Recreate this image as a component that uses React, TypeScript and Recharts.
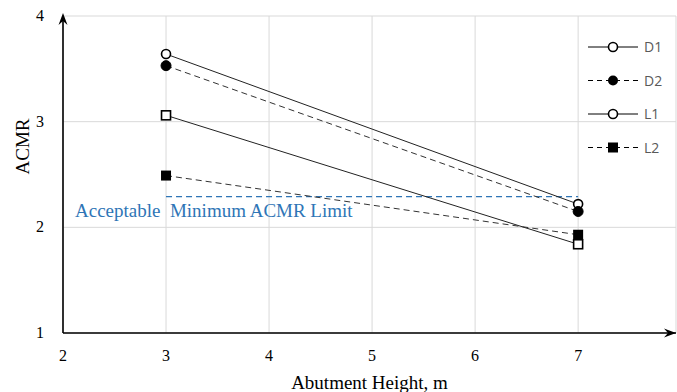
import { CartesianGrid, Line, LineChart, ReferenceDot, ReferenceLine, XAxis, YAxis } from 'recharts';

const heights = [3, 7];
const d1 = [3.64, 2.22];
const d2 = [3.53, 2.15];
const l1 = [3.06, 1.84];
const l2 = [2.49, 1.93];
const limit = 2.29;
const xTicks = [2, 3, 4, 5, 6, 7];
const yTicks = [1, 2, 3, 4];

const data = heights.map((h, i) => ({ h, D1: d1[i], D2: d2[i], L1: l1[i], L2: l2[i] }));

const serif = '"Liberation Serif", "Times New Roman", serif';

const OpenCircle = (p: any) => (
  <circle cx={p.cx} cy={p.cy} r={4.5} fill="#fff" stroke="#000" strokeWidth={1.6} />
);
const FilledCircle = (p: any) => <circle cx={p.cx} cy={p.cy} r={5} fill="#000" stroke="#000" />;
const OpenSquare = (p: any) => (
  <rect x={p.cx - 4.5} y={p.cy - 4.5} width={9} height={9} fill="#fff" stroke="#000" strokeWidth={1.6} />
);
const FilledSquare = (p: any) => <rect x={p.cx - 5} y={p.cy - 5} width={10} height={10} fill="#000" />;

const XTick = (p: any) => (
  <text x={p.x} y={p.y + 20} textAnchor="middle" fontSize={16} fontFamily={serif} fill="#000">
    {p.payload.value}
  </text>
);
const YTick = (p: any) => (
  <text x={p.x - 15} y={p.y + 5} textAnchor="middle" fontSize={16} fontFamily={serif} fill="#000">
    {p.payload.value}
  </text>
);

const legendItems = [
  { name: 'D1', dash: false, marker: 'oc' },
  { name: 'D2', dash: true, marker: 'fc' },
  { name: 'L1', dash: false, marker: 'oc' },
  { name: 'L2', dash: true, marker: 'fs' },
];

const ChartLegend = () => (
  <svg width={90} height={120}>
    {legendItems.map((it, i) => {
      const y = 10 + i * 33.5;
      return (
        <g key={it.name}>
          <line x1={2} x2={52} y1={y} y2={y} stroke="#000" strokeDasharray={it.dash ? '5 4' : undefined} />
          {it.marker === 'oc' && <circle cx={27} cy={y} r={4.5} fill="#fff" stroke="#000" strokeWidth={1.6} />}
          {it.marker === 'fc' && <circle cx={27} cy={y} r={5} fill="#000" />}
          {it.marker === 'fs' && <rect x={22} y={y - 5} width={10} height={10} fill="#000" />}
          <text x={58} y={y + 5} fontSize={14} fill="#595959" fontFamily='"Open Sans", "Noto Sans", sans-serif'>
            {it.name}
          </text>
        </g>
      );
    })}
  </svg>
);

const ArrowUp = (p: any) => (
  <path d={`M${p.cx},${p.cy - 3} L${p.cx - 4.5},${p.cy + 9} L${p.cx},${p.cy + 5} L${p.cx + 4.5},${p.cy + 9} Z`} fill="#000" />
);
const ArrowRight = (p: any) => (
  <path d={`M${p.cx},${p.cy} L${p.cx - 12},${p.cy - 4.5} L${p.cx - 8},${p.cy} L${p.cx - 12},${p.cy + 4.5} Z`} fill="#000" />
);

const App = () => (
  <div style={{ position: 'absolute', left: 0, top: 0, width: 677, height: 392, background: '#fff', fontFamily: serif }}>
    <LineChart width={677} height={392} data={data} margin={{ top: 16, right: 1, left: 0, bottom: 0 }}>
      <CartesianGrid stroke="#d9d9d9" horizontal vertical />
      <XAxis
        dataKey="h"
        type="number"
        domain={[2, 7.95]}
        ticks={xTicks}
        tickLine={false}
        axisLine={{ stroke: '#000', strokeWidth: 1.6 }}
        tick={XTick}
        height={59}
        label={{ value: 'Abutment Height, m', position: 'insideBottom', offset: 3, fill: '#000', fontSize: 19 }}
      />
      <YAxis
        type="number"
        domain={[1, 4]}
        ticks={yTicks}
        tickLine={false}
        axisLine={{ stroke: '#000', strokeWidth: 1.6 }}
        tick={YTick}
        width={63}
        label={{ value: 'ACMR', angle: -90, position: 'insideLeft', offset: 22, fill: '#000', fontSize: 19 }}
      />
      <ReferenceLine
        segment={[{ x: 3, y: limit }, { x: 7, y: limit }]}
        stroke="#2e75b6"
        strokeDasharray="6 4"
        strokeWidth={1.2}
      />
      <ReferenceDot x={2} y={4} ifOverflow="visible" shape={ArrowUp} />
      <ReferenceDot x={7.95} y={1} ifOverflow="visible" shape={ArrowRight} />
      <Line dataKey="D1" stroke="#222" strokeWidth={1} dot={OpenCircle} isAnimationActive={false} />
      <Line dataKey="D2" stroke="#333" strokeWidth={1} strokeDasharray="6 4" dot={FilledCircle} isAnimationActive={false} />
      <Line dataKey="L1" stroke="#222" strokeWidth={1} dot={OpenSquare} isAnimationActive={false} />
      <Line dataKey="L2" stroke="#333" strokeWidth={1} strokeDasharray="6 4" dot={FilledSquare} isAnimationActive={false} />
    </LineChart>
    <div style={{ position: 'absolute', left: 586, top: 37 }}>
      <ChartLegend />
    </div>
    <div
      style={{
        position: 'absolute',
        left: 75,
        top: 200,
        color: '#2e75b6',
        fontSize: 19,
        fontFamily: serif,
        whiteSpace: 'pre',
      }}
    >
      {'Acceptable  Minimum ACMR Limit'}
    </div>
  </div>
);

export default App;
